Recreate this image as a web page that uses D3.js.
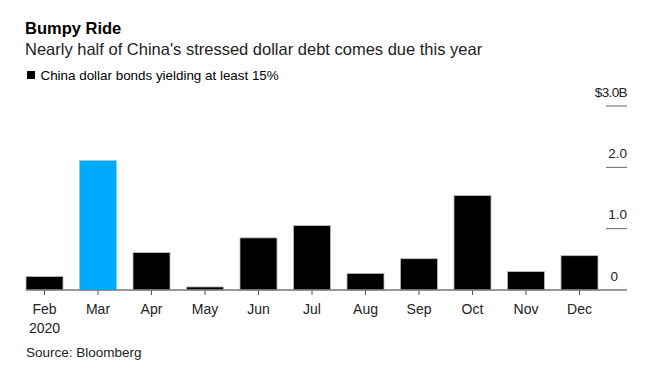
<!DOCTYPE html>
<html><head><meta charset="utf-8">
<script src="https://cdn.jsdelivr.net/npm/d3@7"></script>
<style>
body{margin:0;background:#fff;}
svg{display:block;font-family:"Liberation Sans",Arial,sans-serif;}
</style></head>
<body>
<script>
const months = ["Feb","Mar","Apr","May","Jun","Jul","Aug","Sep","Oct","Nov","Dec"];
const values = [0.22,2.11,0.61,0.05,0.85,1.05,0.27,0.51,1.54,0.30,0.56];
const highlight = ["Mar"];
const yTicks = [0,1,2,3];
const yTickLabels = ["0","1.0","2.0","$3.0B"];

const W=664,H=374;
const svg=d3.select("body").append("svg").attr("width",W).attr("height",H);

const x=d3.scaleBand().domain(months).range([26,598]).paddingInner(0.308).paddingOuter(0);
const y=d3.scaleLinear().domain([0,3]).range([290,106]);

// title
svg.append("text").attr("x",25).attr("y",34).attr("font-size",16.5).attr("font-weight","bold").attr("fill","#000").text("Bumpy Ride");
svg.append("text").attr("x",25).attr("y",55).attr("font-size",16.5).attr("fill","#222").text("Nearly half of China's stressed dollar debt comes due this year");
// legend
svg.append("rect").attr("x",27).attr("y",71).attr("width",8).attr("height",8).attr("fill","#000");
svg.append("text").attr("x",40.5).attr("y",80).attr("font-size",13.4).attr("fill","#000").text("China dollar bonds yielding at least 15%");

// bars
svg.append("g").selectAll("rect").data(months).join("rect")
  .attr("x",d=>x(d)).attr("width",x.bandwidth())
  .attr("y",(d,i)=>y(values[i])).attr("height",(d,i)=>y(0)-y(values[i]))
  .attr("fill",d=>highlight.includes(d)?"#00aaff":"#000")
  .attr("stroke",d=>highlight.includes(d)?"#7fd0ff":"#bbb").attr("stroke-width",0.8);

// y axis (right) custom ticks
const yg=svg.append("g");
yTicks.forEach((t,i)=>{
  if(t!==0){
    yg.append("line").attr("x1",606).attr("x2",627).attr("y1",y(t)).attr("y2",y(t)).attr("stroke","#666").attr("stroke-width",1);
  }
  yg.append("text").attr("x",t===0?618:627).attr("y",y(t)-9.5).attr("text-anchor","end")
    .attr("font-size",13.5).attr("fill","#222").attr("letter-spacing",t===3?-0.6:0).text(yTickLabels[i]);
});

// x axis
const xAxis=d3.axisBottom(x).tickSize(5).tickPadding(9);
const xg=svg.append("g").attr("transform","translate(0,290)").call(xAxis);
xg.select(".domain").remove();
xg.selectAll(".tick line").attr("stroke","#555");
xg.selectAll(".tick text").attr("font-size",14).attr("fill","#222").attr("font-family","Liberation Sans, Arial, sans-serif");
svg.append("line").attr("x1",26).attr("x2",627).attr("y1",290).attr("y2",290).attr("stroke","#777").attr("stroke-width",1.5);
svg.append("text").attr("x",x("Feb")+x.bandwidth()/2).attr("y",333).attr("text-anchor","middle").attr("font-size",14).attr("fill","#222").text("2020");

// source
svg.append("text").attr("x",26).attr("y",357).attr("font-size",13.5).attr("fill","#222").text("Source: Bloomberg");
</script>
</body></html>
